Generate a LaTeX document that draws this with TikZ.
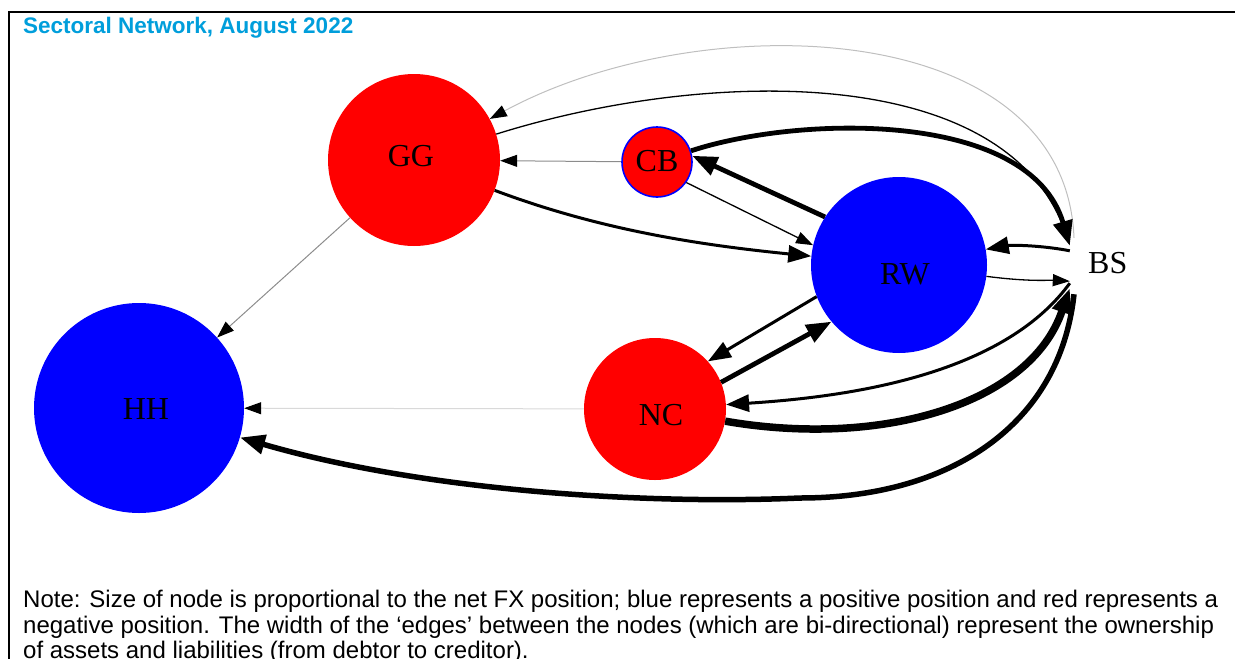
\documentclass[tikz,border=0pt]{standalone}
\usepackage{fontspec}
\setmainfont{Liberation Serif}
\newfontfamily\arialfont{Liberation Sans}
\usetikzlibrary{arrows.meta,calc}
\definecolor{titleblue}{RGB}{0,158,219}
\definecolor{nodered}{RGB}{255,0,0}
\definecolor{nodeblue}{RGB}{0,0,255}
\begin{document}
\begin{tikzpicture}[x=1pt,y=-1pt,
  sector/.style={circle,inner sep=0pt},
  redsec/.style={sector,fill=nodered},
  bluesec/.style={sector,fill=nodeblue},
  lab/.style={anchor=base,inner sep=0pt,font=\fontsize{32}{32}\selectfont},
  notestyle/.style={anchor=base west,inner sep=0pt,font=\arialfont\fontsize{24}{26}\selectfont},
  tipS/.style={-{Triangle[length=17pt,width=12pt,color=black]}},
  tipM/.style={-{Triangle[length=23pt,width=17pt,color=black]}},
  tipL/.style={-{Triangle[length=25pt,width=19pt,color=black]}},
  faint/.style={draw=black!15,line width=1pt,tipS},
  greyline/.style={draw=black!45,line width=1pt,tipS},
  thinline/.style={draw=black,line width=1.3pt,tipS},
  medline/.style={draw=black,line width=3pt,tipM},
  thickline/.style={draw=black,line width=4.8pt,tipL},
  heavyline/.style={draw=black,line width=7.5pt,tipL},
]
\useasboundingbox (0,0) rectangle (1235,659);
% frame
\draw[line width=2pt] (9,680) -- (9,12) -- (1245,12);
% title
\node[anchor=base west,inner sep=0pt,text=titleblue,font=\arialfont\bfseries\fontsize{22.5}{24}\selectfont] (title) at (23,33) {Sectoral Network, August 2022};

% nodes
\node[redsec,minimum size=172pt] (GG) at (414,160) {};
\node[redsec,draw=nodeblue,line width=1.6pt,minimum size=70pt] (CB) at (657,162) {};
\node[bluesec,minimum size=176pt] (RW) at (899,265) {};
\node[bluesec,minimum size=210pt] (HH) at (139,408) {};
\node[redsec,minimum size=142pt] (NC) at (655,409) {};
\node[rectangle,inner sep=0pt,minimum width=8pt,minimum height=56pt] (BS) at (1074,266) {};
% labels
\node[lab] (GGl) at (411,166) {GG};
\node[lab] (CBl) at (657,171) {CB};
\node[lab] (RWl) at (905,284) {RW};
\node[lab] (HHl) at (146,419) {HH};
\node[lab] (NCl) at (661,425) {NC};
\node[lab,anchor=base west] (BSl) at (1088,273) {BS};

% edges
\draw[faint] (NC) -- (HH);
\draw[greyline] (GG) -- (HH);
\draw[greyline] (CB) -- (GG);
\draw[draw=black!25,line width=1pt,tipS] (BS.north) .. controls (1065,15) and (700,5) .. (GG);
\draw[thinline] (GG) .. controls (700,70) and (1000,60) .. ([yshift=-6pt]BS.north west);
\draw[thickline] (CB) .. controls (800,115) and (1030,110) .. ([yshift=-8pt]BS.north west);
\draw[thickline] (RW.147) -- (CB.10);
\draw[thinline] (CB.-35) -- (RW.167);
\draw[medline] (GG) .. controls (600,230) and (700,245) .. (RW);
\draw[medline] ([yshift=-13pt]BS.north west) .. controls (1040,245) and (1010,245) .. (RW);
\draw[thinline] (RW) .. controls (1030,282) and (1050,280) .. ([yshift=13pt]BS.south west);
\draw[medline] (RW.201) -- (NC.42);
\draw[thickline] (NC.22) -- (RW.220);
\draw[medline] ([yshift=11pt]BS.south west) .. controls (1010,365) and (880,395) .. (NC);
\draw[heavyline] (NC) .. controls (880,448) and (1030,405) .. ([yshift=6pt]BS.south west);
\coordinate (m1) at (800,498);
\draw[draw=black,line width=5.5pt,tipL] (BS.south) .. controls (1060,425) and (950,498) .. (m1) .. controls (640,505) and (420,490) .. (HH);

% note
\node[notestyle] (note1) at (23,607) {Note: Size of node is proportional to the net FX position; blue represents a positive position and red represents a};
\node[notestyle] (note2) at (23,633) {negative position. The width of the ‘edges’ between the nodes (which are bi-directional) represent the ownership};
\node[notestyle] (note3) at (23,658) {of assets and liabilities (from debtor to creditor).};
\end{tikzpicture}
\end{document}
